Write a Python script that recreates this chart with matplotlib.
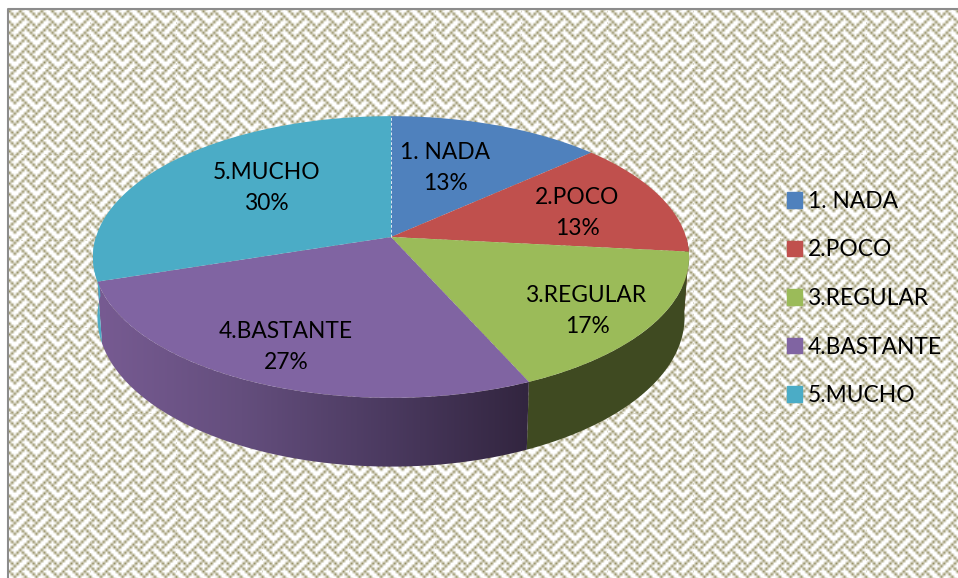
import numpy as np
import matplotlib.pyplot as plt
from matplotlib.patches import Patch, Polygon
from matplotlib.colors import LinearSegmentedColormap

categorias = ['1. NADA', '2.POCO', '3.REGULAR', '4.BASTANTE', '5.MUCHO']
valores = [4, 4, 5, 8, 9]
rotulos = ['13%', '13%', '17%', '27%', '30%']
cores = ['#4F81BD', '#C0504D', '#9BBB59', '#8064A2', '#4BACC6']
cores_lado = ['#2A4568', '#6A2B29', '#3F4A21', '#8064A2', '#4BACC6']

# posicao dos rotulos (centro do texto, pixels)
pos_rotulos = [(445, 168), (577, 213), (587, 311), (286, 347), (267, 188)]

# geometria da pizza em perspectiva (pixels)
cx, cy = 391, 237
a, b = 295, 138
k = 0.142
prof = 59
enc = 0.985


def borda(theta):
    s = 1 / (1 + k * np.cos(theta))
    return cx + a * np.sin(theta) * s, cy - b * np.cos(theta) * s, s


def borda_baixo(theta):
    x, y, s = borda(theta)
    return cx + (x - cx) * enc, y + prof * s


plt.rcParams['font.family'] = ['Lato', 'DejaVu Sans']
fig = plt.figure(figsize=(9.58, 5.78), dpi=100)
ax = fig.add_axes([0, 0, 1, 1])

# textura de fundo (trama 8x8)
linhas = [0x11, 0x2a, 0x44, 0xa2, 0x11, 0x28, 0x44, 0x8a]
tile = np.array([[(v >> (7 - i)) & 1 for i in range(8)] for v in linhas], dtype=float)
fundo = np.tile(tile, (40, 50))
unidade = 86.2 / 32
x0, y0 = 4.0 - 86.2 - 9.3, -18.0 - 86.2 + 1.0
cmap = LinearSegmentedColormap.from_list('trama', ['white', '#948E62'])
ax.imshow(fundo, cmap=cmap, vmin=0, vmax=1, interpolation='bilinear', aspect='auto',
          extent=(x0, x0 + 50 * 8 * unidade, y0 + 40 * 8 * unidade, y0), zorder=0)

# emendas fracas da textura
for n in range(6):
    ax.plot([9, 958], [68 + n * 86.2] * 2, color='#948E62', alpha=0.35, lw=0.7, ls=(0, (2, 4)), zorder=0.5)
for n in range(-1, 10):
    ax.plot([90 + n * 86.2] * 2, [10, 578], color='#948E62', alpha=0.35, lw=0.7, ls=(0, (2, 4)), zorder=0.5)

ax.fill_between([0, 958], 0, 10, color='white', lw=0, zorder=1)
ax.fill_between([0, 9], 0, 578, color='white', lw=0, zorder=1)
ax.plot([8, 8, 958], [578, 9, 9], color='#8c8c8c', lw=1.5, zorder=2)

angulos = np.cumsum([0] + valores) / sum(valores) * 2 * np.pi

# lateral (so a parte da frente)
grad = LinearSegmentedColormap.from_list('lado', ['#775B92', '#644E7D', '#4B3A60', '#32253F'])
for i in range(len(valores)):
    ini = max(angulos[i], np.pi / 2)
    fim = min(angulos[i + 1], 3 * np.pi / 2)
    if fim <= ini:
        continue
    t = np.linspace(ini, fim, 150)
    xa, ya, _ = borda(t)
    xb, yb = borda_baixo(t)
    pts = np.c_[np.r_[xa, xb[::-1]], np.r_[ya, yb[::-1]]]
    if i == 3:
        # gradiente da esquerda (claro) para a direita (escuro)
        lado = Polygon(pts, closed=True, facecolor='none', edgecolor='none', transform=ax.transData)
        ax.add_patch(lado)
        im = ax.imshow(np.linspace(0, 1, 256)[None, :], cmap=grad, aspect='auto',
                       extent=(pts[:, 0].min(), pts[:, 0].max(), pts[:, 1].max(), pts[:, 1].min()), zorder=3)
        im.set_clip_path(lado)
    else:
        ax.fill(pts[:, 0], pts[:, 1], color=cores_lado[i], lw=0, zorder=3)

# topo
for i in range(len(valores)):
    t = np.linspace(angulos[i], angulos[i + 1], 200)
    x, y, _ = borda(t)
    ax.fill(np.r_[cx, x], np.r_[cy, y], color=cores[i], lw=0, zorder=4)

# emenda clara entre azul e turquesa
xt, yt, _ = borda(0.0)
ax.plot([cx, xt], [cy, yt], color='#dfeaf2', lw=0.7, ls=(0, (3, 2)), zorder=5)

for nome, rot, (px, py) in zip(categorias, rotulos, pos_rotulos):
    ax.text(px, py, nome + '\n' + rot, ha='center', va='center', fontsize=16.4,
            linespacing=1.58, color='black', zorder=6)

handles = [Patch(color=c, label=n) for c, n in zip(cores, categorias)]
ax.legend(handles=handles, loc='center left', bbox_to_anchor=(787, 298.5), bbox_transform=ax.transData,
          frameon=False, fontsize=16.4, handlelength=0.66, handleheight=0.66, handletextpad=0.25,
          labelspacing=1.21, borderpad=0, borderaxespad=0)

ax.set_xlim(0, 958)
ax.set_ylim(578, 0)
ax.axis('off')
fig.savefig('out.png', dpi=100)
